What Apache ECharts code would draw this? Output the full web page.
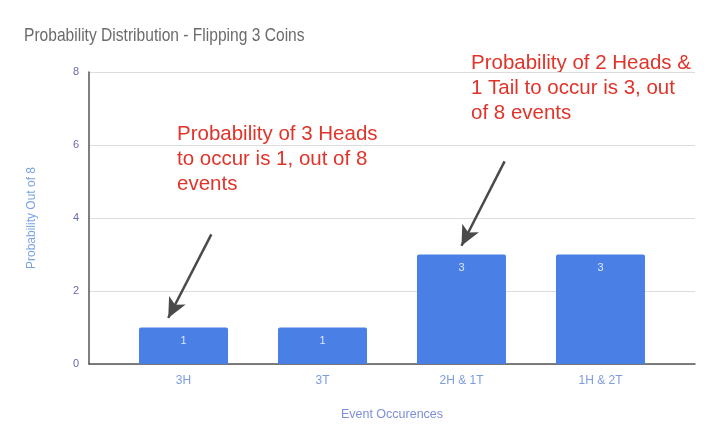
<!DOCTYPE html>
<html>
<head>
<meta charset="utf-8">
<script src="https://cdn.jsdelivr.net/npm/echarts@6/dist/echarts.min.js"></script>
<style>
html,body{margin:0;padding:0;background:#fff;}
#chart{width:720px;height:441px;}
</style>
</head>
<body>
<div id="chart"></div>
<script>
var categories = ['3H', '3T', '2H & 1T', '1H & 2T'];
var values = [1, 1, 3, 3];
var yTicks = [0, 2, 4, 6, 8];
var titleText = 'Probability Distribution - Flipping 3 Coins';
var yAxisName = 'Probability Out of 8';
var xAxisName = 'Event Occurences';
var note1 = 'Probability of 3 Heads\nto occur is 1, out of 8\nevents';
var note2 = 'Probability of 2 Heads &\n1 Tail to occur is 3, out\nof 8 events';
// arrows in data coordinates [x, y] (start -> end)
var arrow1 = [[0.2, 3.55], [-0.11, 1.26]];
var arrow2 = [[2.31, 5.55], [2.0, 3.24]];

var chart = echarts.init(document.getElementById('chart'));
var barData = categories.map(function (c, i) { return [i, values[i]]; });
var catIdx = categories.map(function (c, i) { return i; });

chart.setOption({
  animation: false,
  backgroundColor: '#ffffff',
  grid: { left: 89, right: 25, top: 72, bottom: 77, containLabel: false },
  xAxis: {
    type: 'value',
    min: -0.68, max: 3.68,
    name: xAxisName,
    nameLocation: 'middle',
    nameGap: 44,
    nameTextStyle: { color: '#7d8fd8', fontSize: 12.5, fontFamily: 'Liberation Sans' },
    splitLine: { show: false },
    axisLine: { show: true, onZero: false, lineStyle: { color: '#555555', width: 1.5 } },
    axisTick: { show: false },
    axisLabel: {
      customValues: catIdx,
      color: '#7d9be0', fontSize: 12, margin: 11, fontFamily: 'Liberation Sans',
      formatter: function (v) { return categories[Math.round(v)] || ''; }
    }
  },
  yAxis: {
    type: 'value',
    min: 0, max: 8, interval: 2,
    name: yAxisName,
    nameLocation: 'middle',
    nameGap: 51,
    nameTextStyle: { color: '#7aa3e6', fontSize: 12, fontFamily: 'Liberation Sans' },
    axisLine: { show: true, onZero: false, lineStyle: { color: '#555555', width: 1.5 } },
    axisTick: { show: false },
    axisLabel: { color: '#6a6ab4', fontSize: 11, margin: 10, fontFamily: 'Liberation Sans' },
    splitLine: { lineStyle: { color: '#dcdcdc', width: 1 } }
  },
  series: [{
    type: 'bar',
    data: barData,
    barWidth: 89,
    itemStyle: { color: '#4a7fe6', borderRadius: [2, 2, 0, 0] },
    label: {
      show: true, position: 'insideTop', distance: 8,
      color: '#dfe8fb', fontSize: 11, fontFamily: 'Liberation Sans'
    },
    markLine: {
      silent: true,
      symbol: ['none', 'arrow'],
      symbolSize: [14, 20],
      lineStyle: { color: '#4a4a4a', width: 2.5, type: 'solid' },
      label: { show: false },
      data: [
        [{ coord: arrow1[0] }, { coord: arrow1[1] }],
        [{ coord: arrow2[0] }, { coord: arrow2[1] }]
      ]
    }
  }],
  graphic: [
    {
      type: 'text', x: 24, y: 26, scaleX: 0.82, scaleY: 1,
      style: { text: titleText, fill: '#6b6b6b', fontSize: 19, fontFamily: 'Liberation Sans' }
    },
    {
      type: 'text', left: 177, top: 122,
      style: { text: note1, fill: '#e0342a', fontSize: 20.5, lineHeight: 25, fontFamily: 'Liberation Sans' }
    },
    {
      type: 'text', left: 471, top: 51,
      style: { text: note2, fill: '#e0342a', fontSize: 20.5, lineHeight: 25, fontFamily: 'Liberation Sans' }
    }
  ]
});
</script>
</body>
</html>
